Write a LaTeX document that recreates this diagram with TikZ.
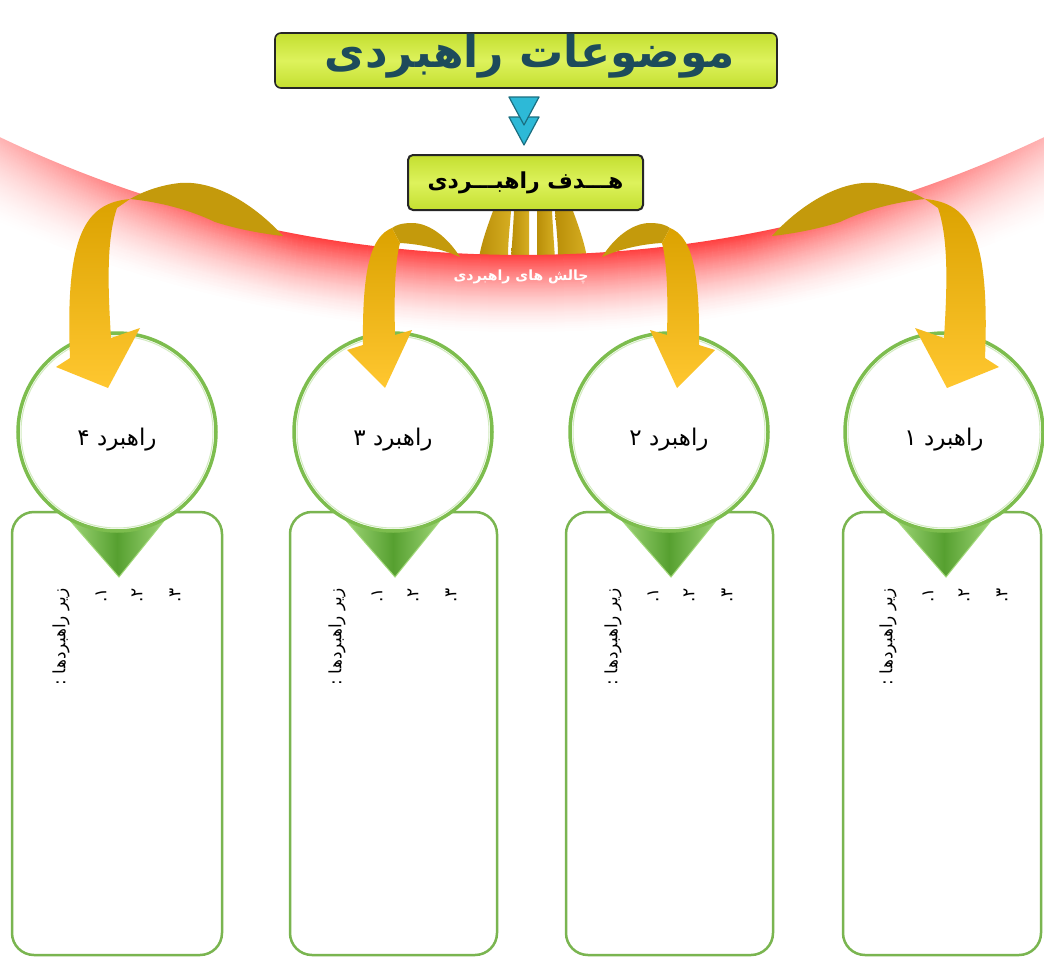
\documentclass[tikz,border=0pt]{standalone}
\usepackage{fontspec}
\TeXXeTstate=1
\newfontfamily\arabicfont[Script=Arabic]{DejaVu Sans}
\usetikzlibrary{fadings}
\definecolor{limeA}{HTML}{C4DF30}
\definecolor{limeB}{HTML}{DDF25C}
\definecolor{titleteal}{HTML}{1D4B5B}
\definecolor{cyanfill}{HTML}{2DB9D7}
\definecolor{cyandraw}{HTML}{1A6E80}
\definecolor{goldback}{HTML}{C49A0C}
\definecolor{goldtop}{HTML}{DBA200}
\definecolor{goldbot}{HTML}{FFC730}
\definecolor{stripeA}{HTML}{B98E08}
\definecolor{stripeB}{HTML}{D6AE22}
\definecolor{ringgreen}{HTML}{7DBD4E}
\definecolor{ringlight}{HTML}{D2EBC0}
\definecolor{boxgreen}{HTML}{7AB550}
\definecolor{pindark}{HTML}{56A030}
\definecolor{pinlight}{HTML}{A2D87A}
\definecolor{bandred}{HTML}{FF2B2B}
\tikzfading[name=fadeleft, left color=transparent!40, right color=transparent!100]
\tikzfading[name=faderight, left color=transparent!100, right color=transparent!40]
\tikzset{
  limebox/.style={draw=black!85, line width=1.6pt, rounded corners=6pt,
    top color=limeA, bottom color=limeA, middle color=limeB, inner sep=0pt},
  arrowfront/.style={top color=goldtop, bottom color=goldbot},
  stripe/.style={left color=stripeA, right color=stripeB},
  subbox/.style={draw=boxgreen, line width=2.5pt, rounded corners=22pt, fill=white},
  ring/.style={circle, minimum size=198pt, draw=ringgreen, line width=3.5pt, fill=white, inner sep=0pt},
  pinstyle/.style={left color=pinlight, right color=pinlight, middle color=pindark, draw=pinlight, line width=1pt},
  ctextstyle/.style={font=\arabicfont\fontsize{23}{26}\selectfont, text=black},
  substyle/.style={rotate=90, anchor=east, font=\arabicfont\fontsize{17}{20}\selectfont, text=black, inner sep=0pt},
}
\newcommand\arrowOuterShape{%
  \fill[goldback] (283,236) .. controls (255,205) and (215,180) .. (180,183)
    .. controls (160,185) and (142,192) .. (130,199)
    .. controls (160,202) and (190,210) .. (215,222)
    .. controls (240,230) and (265,234) .. (283,236) -- cycle;
  \shade[arrowfront] (130,199) .. controls (85,203) and (65,235) .. (70,358)
    -- (56,367) -- (108,388) -- (140,328) -- (111,338)
    .. controls (108,290) and (106,240) .. (117,208) -- cycle;
}
\newcommand\arrowInnerShape{%
  \fill[goldback] (460,257) .. controls (448,238) and (430,223) .. (412,223)
    .. controls (402,223) and (396,225) .. (392,228) -- (400,243)
    .. controls (420,244) and (442,249) .. (460,257) -- cycle;
  \shade[arrowfront] (392,228) .. controls (372,236) and (362,265) .. (363,345)
    -- (347,350) -- (385,388) -- (412,330) -- (395,335)
    .. controls (394,295) and (395,262) .. (400,243) -- cycle;
}
\newcommand\stripePair{%
  \shade[stripe] (493,211) .. controls (486,230) and (481,245) .. (479,258)
    -- (508,258) .. controls (508,240) and (510,225) .. (511,211) -- cycle;
  \shade[stripe] (514,211) .. controls (513,230) and (512,245) .. (511,258)
    -- (529,258) .. controls (529,240) and (529,225) .. (529,211) -- cycle;
}
\begin{document}
\begin{tikzpicture}[x=1pt,y=-1pt]
\useasboundingbox (0,0) rectangle (1044,958);
\fill[white] (0,0) rectangle (1044,958);

% ribbons below the goal box
\stripePair
\begin{scope}[xshift=1066pt, xscale=-1]\stripePair\end{scope}

% red band
\begin{scope}
  \clip (0,0) rectangle (1044,958);
  \foreach \i in {0,...,79}{
    \pgfmathtruncatemacro\v{round(90*(1-\i/80)^1.6)}
    \draw[line width=1.5pt, draw=bandred!\v!white] (522,-958) circle[radius=1213.7pt+1pt*\i];
  }
\end{scope}
\fill[white, path fading=fadeleft] (0,100) rectangle (300,380);
\fill[white, path fading=faderight] (744,100) rectangle (1044,380);

% title
\node[limebox, minimum width=502pt, minimum height=55pt] (titlebox) at (526,60.5) {};
\node[font=\arabicfont\bfseries\fontsize{44}{48}\selectfont, text=titleteal] (titletext) at (530,56) {\beginR موضوعات راهبردی\endR};

% cyan double arrow
\coordinate (tri1) at (524,97);
\coordinate (tri2) at (524,117);
\fill[cyanfill, draw=cyandraw, line width=1.2pt, line join=round] ([xshift=-15pt]tri2) -- ([xshift=15pt]tri2) -- ([yshift=-28pt]tri2) -- cycle;
\fill[cyanfill, draw=cyandraw, line width=1.2pt, line join=round] ([xshift=-15pt]tri1) -- ([xshift=15pt]tri1) -- ([yshift=-28pt]tri1) -- cycle;

% goal box
\node[limebox, line width=2pt, rounded corners=5pt, minimum width=235pt, minimum height=55pt,
  font=\arabicfont\bfseries\fontsize{22}{25}\selectfont] (goal) at (525.5,182.5) {\beginR هـــدف راهبـــردی\endR};

% band label
\node[font=\arabicfont\bfseries\fontsize{14}{17}\selectfont, text=white] (challenge) at (521,277) {\beginR چالش های راهبردی\endR};

% columns
\foreach \cx/\bl/\br/\lab/\n in {944/843/1041/۱/1, 669/566/773/۲/2, 393/290/497/۳/3, 117/12/222/۴/4}{
  \draw[subbox] (\bl,512) rectangle (\br,955);
  \shade[pinstyle] ({\cx-50},517) -- ({\cx+50},517) -- ({\cx+2},577) -- cycle;
  \node[ring] (circ\n) at (\cx,432) {};
  \draw[ringlight, line width=1pt] (circ\n.center) circle[radius=96pt];
  \node[ctextstyle] (ctext\n) at (\cx,440) {\beginR راهبرد \lab\endR};
  \node[substyle] (sub\n) at ({\cx-56},588) {\beginR زیر راهبردها :\endR};
  \node[substyle] (itema\n) at ({\cx-16},588) {\beginR ۱.\endR};
  \node[substyle] (itemb\n) at ({\cx+20},588) {\beginR ۲.\endR};
  \node[substyle] (itemc\n) at ({\cx+58},588) {\beginR ۳.\endR};
}

% curved arrows
\arrowOuterShape
\arrowInnerShape
\begin{scope}[xshift=1055pt, xscale=-1]\arrowOuterShape\end{scope}
\begin{scope}[xshift=1062pt, xscale=-1]\arrowInnerShape\end{scope}
\end{tikzpicture}
\end{document}
